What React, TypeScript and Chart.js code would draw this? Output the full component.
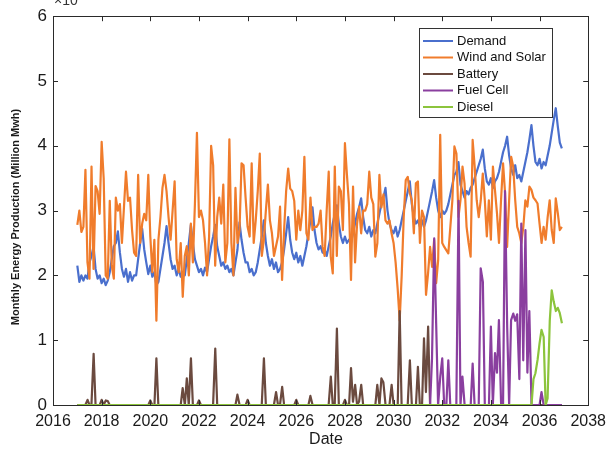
import React, { useEffect, useRef } from "react";
import { Chart, registerables } from "chart.js";

Chart.register(...registerables);

// Monthly series start in January 2017
const START_YEAR = 2017;

const demand = [
  2.15, 1.9, 2.0, 1.92, 2.0, 1.95, 2.2, 2.3, 2.45, 2.1, 1.95, 2.0,
  1.88, 1.95, 1.85, 1.92, 2.05, 2.25, 2.45, 2.5, 2.68, 2.35, 2.1, 1.98,
  2.1, 1.9, 2.05, 1.92, 2.0, 2.0, 2.25, 2.5, 2.72, 2.4, 2.2, 2.02,
  2.15, 1.98, 2.05, 1.85, 1.9, 2.1, 2.3, 2.5, 2.76, 2.5, 2.25, 2.1,
  2.15, 2.0, 2.1, 1.98, 2.05, 2.0, 2.25, 2.5, 2.78, 2.5, 2.25, 2.15,
  2.05, 2.1, 2.0, 2.12, 2.05, 2.25, 2.45, 2.6, 2.78, 2.45, 2.3, 2.15,
  2.2, 2.1, 2.15, 2.05, 2.1, 2.0, 2.2, 2.4, 2.82, 2.55, 2.35, 2.2,
  2.2, 2.05, 2.1, 2.0, 2.05, 2.2, 2.4, 2.6, 2.85, 2.5, 2.3, 2.15,
  2.25, 2.1, 2.2, 2.05, 2.1, 2.2, 2.4, 2.65, 2.9, 2.55, 2.35, 2.25,
  2.35, 2.2, 2.3, 2.15, 2.3, 2.45, 2.65, 2.85, 3.05, 2.7, 2.5, 2.4,
  2.45, 2.35, 2.4, 2.3, 2.45, 2.6, 2.8, 2.95, 3.08, 2.8, 2.6, 2.5,
  2.6, 2.5, 2.55, 2.5, 2.65, 2.8, 2.95, 3.05, 3.19, 2.9, 2.7, 2.65,
  2.75, 2.6, 2.7, 2.65, 2.8, 2.95, 3.1, 3.2, 3.35, 3.0, 2.8, 2.7,
  2.65, 2.75, 2.6, 2.7, 2.85, 3.0, 3.15, 3.3, 3.45, 3.1, 2.9, 2.8,
  2.85, 2.75, 2.85, 2.75, 2.85, 3.0, 3.15, 3.3, 3.47, 3.2, 3.0, 2.9,
  3.0, 2.95, 3.0, 3.1, 3.25, 3.4, 3.55, 3.6, 3.75, 3.4, 3.3, 3.2,
  3.3, 3.25, 3.35, 3.4, 3.5, 3.6, 3.7, 3.8, 3.94, 3.65, 3.45, 3.4,
  3.5, 3.35, 3.45, 3.5, 3.6, 3.75, 3.9, 4.0, 4.14, 3.85, 3.65, 3.55,
  3.7, 3.5, 3.55, 3.45, 3.6, 3.75, 3.9, 4.1, 4.32, 4.0, 3.75, 3.7,
  3.8, 3.65, 3.75, 3.7, 3.85, 4.0, 4.2, 4.4, 4.58, 4.3, 4.05, 3.96,
];

const windSolar = [
  2.78, 3.0, 2.67, 2.75, 3.63, 2.2, 1.95, 3.68, 2.1, 3.38, 3.3, 2.95,
  4.06, 3.5, 2.0, 1.95, 3.15, 2.15, 1.95, 3.2, 3.0, 3.1, 2.5, 3.05,
  3.6, 3.15, 3.2, 2.7, 2.35, 2.3, 3.55, 2.5, 2.8, 2.95, 2.85, 3.55,
  2.6, 2.05, 2.55, 1.3, 2.55, 2.9, 3.35, 3.55, 3.3, 2.9, 2.55, 3.0,
  3.45, 2.25, 2.05, 2.5, 1.67, 2.3, 2.45, 2.0, 2.8, 2.2, 3.1, 4.2,
  2.9, 3.0, 2.85, 2.5, 2.0, 2.6, 4.0, 3.7, 2.15, 2.9, 3.2, 2.8,
  3.4, 2.2, 2.5, 4.1, 2.5, 2.0, 3.35, 2.5, 2.7, 3.73, 3.7, 3.2,
  2.75, 2.6, 3.73, 2.5, 2.85, 3.3, 3.88, 2.3, 2.55, 3.0, 3.4, 2.85,
  2.65, 2.3, 2.45, 2.6, 3.06, 1.93, 2.7, 3.3, 3.65, 3.34, 3.3, 3.15,
  2.55, 3.0, 2.7, 3.0, 3.83, 2.65, 2.55, 3.2, 2.7, 2.75, 2.75, 2.8,
  3.0, 2.44, 2.3, 3.0, 3.6, 2.29, 2.03, 3.68, 2.3, 3.37, 3.3, 2.7,
  4.04, 3.55, 3.1, 1.93, 3.37, 2.2, 2.8, 3.06, 2.65, 3.0, 3.0, 3.1,
  3.6, 3.2, 3.1, 2.29, 2.5, 3.55, 3.05, 3.25, 2.85, 2.8, 2.85, 2.65,
  2.5, 2.2, 1.8, 1.3, 2.0, 2.9, 3.47, 3.52, 3.27, 3.16, 2.65, 3.42,
  3.45, 2.5, 3.0, 2.9, 1.7, 2.03, 2.44, 2.13, 2.55, 1.88, 2.24, 4.17,
  2.5, 2.44, 2.39, 2.34, 2.75, 3.16, 3.99, 3.88, 2.9, 3.16, 3.68, 3.42,
  2.75, 2.5, 2.29, 4.09, 3.68, 3.16, 2.9, 3.16, 3.57, 3.16, 2.6, 3.16,
  2.55, 3.68, 3.32, 2.96, 2.5, 3.16, 3.73, 3.27, 2.44, 3.16, 3.83, 3.68,
  3.16, 2.75, 2.65, 2.5, 2.75, 3.16, 3.06, 3.37, 3.32, 3.2, 3.16, 3.11,
  2.8, 2.5, 2.75, 2.55, 2.9, 3.16, 2.7, 2.5, 3.19, 2.96, 2.7, 2.75,
];

// Sparse series: [decimal year, value]
const battery: [number, number][] = [
  [2017.0, 0], [2017.33, 0], [2017.42, 0.08], [2017.5, 0], [2017.58, 0], [2017.67, 0.79],
  [2017.75, 0], [2017.92, 0], [2018.0, 0.08], [2018.08, 0], [2018.17, 0.07], [2018.25, 0.06],
  [2018.33, 0], [2019.92, 0], [2020.0, 0.07], [2020.08, 0], [2020.17, 0], [2020.25, 0.72],
  [2020.33, 0], [2021.25, 0], [2021.33, 0.26], [2021.42, 0], [2021.5, 0.41], [2021.58, 0],
  [2021.67, 0.72], [2021.75, 0], [2021.92, 0], [2022.0, 0.07], [2022.08, 0], [2022.58, 0],
  [2022.67, 0.87], [2022.75, 0], [2023.5, 0], [2023.58, 0.16], [2023.67, 0], [2023.92, 0],
  [2024.0, 0.08], [2024.08, 0], [2024.58, 0], [2024.67, 0.72], [2024.75, 0], [2025.08, 0],
  [2025.17, 0.2], [2025.25, 0], [2025.33, 0], [2025.42, 0.28], [2025.5, 0], [2025.92, 0],
  [2026.0, 0.08], [2026.08, 0], [2026.5, 0], [2026.58, 0.14], [2026.67, 0], [2027.33, 0],
  [2027.42, 0.44], [2027.5, 0], [2027.58, 0], [2027.67, 1.18], [2027.75, 0], [2027.92, 0],
  [2028.0, 0.08], [2028.08, 0], [2028.17, 0], [2028.25, 0.57], [2028.33, 0.05], [2028.42, 0.31],
  [2028.5, 0], [2028.58, 0.05], [2028.67, 0.31], [2028.75, 0], [2029.25, 0], [2029.33, 0.31],
  [2029.42, 0], [2029.5, 0.41], [2029.58, 0.35], [2029.67, 0], [2029.83, 0], [2029.92, 0.31],
  [2030.0, 0], [2030.17, 0], [2030.25, 1.45], [2030.33, 0], [2030.58, 0], [2030.67, 0.69],
  [2030.75, 0], [2030.92, 0], [2031.0, 0.59], [2031.08, 0], [2031.17, 0], [2031.25, 1.03],
  [2031.33, 0.2], [2031.42, 1.21], [2031.5, 0], [2036.92, 0],
];

const fuelCell: [number, number][] = [
  [2017.0, 0], [2031.5, 0], [2031.58, 0.72], [2031.67, 2.57], [2031.75, 1.26], [2031.83, 0],
  [2031.92, 0.44], [2032.0, 0.72], [2032.08, 0], [2032.17, 0], [2032.25, 0.69], [2032.33, 0],
  [2032.58, 0], [2032.67, 3.15], [2032.75, 0], [2032.83, 0.44], [2032.92, 0], [2033.17, 0],
  [2033.25, 0.64], [2033.33, 0], [2033.5, 0], [2033.58, 2.11], [2033.67, 1.9], [2033.75, 0],
  [2033.92, 0], [2034.0, 1.21], [2034.08, 0], [2034.17, 0.8], [2034.25, 0.5], [2034.33, 1.31],
  [2034.42, 0], [2034.5, 0], [2034.58, 3.3], [2034.67, 1.2], [2034.75, 0], [2034.83, 1.31],
  [2034.92, 1.41], [2035.0, 1.3], [2035.08, 1.4], [2035.17, 0.4], [2035.25, 2.8], [2035.33, 0.69],
  [2035.42, 2.7], [2035.5, 0.5], [2035.58, 1.45], [2035.67, 0], [2036.0, 0], [2036.08, 0.2],
  [2036.17, 0], [2036.92, 0],
];

const diesel: [number, number][] = [
  [2017.0, 0], [2035.67, 0], [2035.75, 0.4], [2035.83, 0.49], [2035.92, 0.7], [2036.0, 0.95],
  [2036.08, 1.16], [2036.17, 1.05], [2036.25, 0], [2036.33, 0.1], [2036.42, 1.3], [2036.5, 1.77],
  [2036.58, 1.6], [2036.67, 1.45], [2036.75, 1.5], [2036.83, 1.42], [2036.92, 1.26],
];

const xTicks = [2016, 2018, 2020, 2022, 2024, 2026, 2028, 2030, 2032, 2034, 2036, 2038];
const yTicks = [0, 1, 2, 3, 4, 5, 6];
const seriesNames = ["Demand", "Wind and Solar", "Battery", "Fuel Cell", "Diesel"];
const seriesColors = ["#4a6fcd", "#f07c2c", "#6b4a3f", "#8a3f9f", "#8cc43c"];

const FONT = "'Liberation Sans', Arial, sans-serif";

const decorPlugin = {
  id: "decor",
  beforeDraw(chart: any) {
    const ctx = chart.ctx;
    ctx.save();
    ctx.fillStyle = "#ffffff";
    ctx.fillRect(0, 0, chart.width, chart.height);
    ctx.restore();
  },
  afterDraw(chart: any) {
    const ctx = chart.ctx;
    const a = chart.chartArea;
    const xs = chart.scales.x;
    const ys = chart.scales.y;
    ctx.save();
    ctx.strokeStyle = "#2a2a2a";
    ctx.lineWidth = 1;
    ctx.strokeRect(Math.round(a.left) + 0.5, Math.round(a.top) + 0.5, Math.round(a.right - a.left), Math.round(a.bottom - a.top));
    ctx.beginPath();
    for (const v of xTicks) {
      const px = Math.round(xs.getPixelForValue(v)) + 0.5;
      ctx.moveTo(px, a.bottom);
      ctx.lineTo(px, a.bottom - 5);
      ctx.moveTo(px, a.top);
      ctx.lineTo(px, a.top + 5);
    }
    for (const v of yTicks) {
      const py = Math.round(ys.getPixelForValue(v)) + 0.5;
      ctx.moveTo(a.left, py);
      ctx.lineTo(a.left + 5, py);
      ctx.moveTo(a.right, py);
      ctx.lineTo(a.right - 5, py);
    }
    ctx.stroke();

    // exponent label (cut at top)
    ctx.fillStyle = "#333";
    ctx.font = `14px ${FONT}`;
    ctx.textAlign = "left";
    ctx.textBaseline = "alphabetic";
    ctx.fillText("\u00d710", a.left + 1, 5);

    // y title
    ctx.save();
    ctx.translate(16, 217);
    ctx.rotate(-Math.PI / 2);
    ctx.textAlign = "center";
    ctx.textBaseline = "middle";
    ctx.font = `bold 11px ${FONT}`;
    ctx.fillStyle = "#1a1a1a";
    ctx.fillText("Monthly Energy Production (Million Mwh)", 0, 0);
    ctx.restore();

    // x title
    ctx.textAlign = "center";
    ctx.textBaseline = "middle";
    ctx.font = `16px ${FONT}`;
    ctx.fillStyle = "#1a1a1a";
    ctx.fillText("Date", 326, 440);

    // legend
    const lx = 419.5, ly = 28.5, lw = 133, lh = 89;
    ctx.fillStyle = "#ffffff";
    ctx.fillRect(lx, ly, lw, lh);
    ctx.strokeStyle = "#333";
    ctx.lineWidth = 1;
    ctx.strokeRect(lx, ly, lw, lh);
    ctx.font = `13px ${FONT}`;
    ctx.textAlign = "left";
    ctx.textBaseline = "middle";
    seriesNames.forEach((name, i) => {
      const ry = 41 + i * 16.5;
      ctx.strokeStyle = seriesColors[i];
      ctx.lineWidth = 2;
      ctx.beginPath();
      ctx.moveTo(423, ry);
      ctx.lineTo(453, ry);
      ctx.stroke();
      ctx.fillStyle = "#111";
      ctx.fillText(name, 457, ry);
    });
    ctx.restore();
  },
};

export default function App() {
  const ref = useRef<HTMLCanvasElement | null>(null);
  useEffect(() => {
    if (!ref.current) return;
    const monthly = (arr: number[]) => arr.map((v, i) => ({ x: START_YEAR + i / 12, y: v }));
    const pairs = (arr: [number, number][]) => arr.map(([x, y]) => ({ x, y }));
    const seriesData = [monthly(demand), monthly(windSolar), pairs(battery), pairs(fuelCell), pairs(diesel)];
    const chart = new Chart(ref.current, {
      type: "line",
      data: {
        datasets: seriesData.map((d, i) => ({
          label: seriesNames[i],
          data: d,
          borderColor: seriesColors[i],
          backgroundColor: seriesColors[i],
          borderWidth: 2.2,
          pointRadius: 0,
          tension: 0,
          fill: false,
          borderJoinStyle: "round" as const,
          order: 5 - i,
        })),
      },
      options: {
        responsive: false,
        animation: false,
        devicePixelRatio: 1,
        layout: { padding: { left: 0, top: 16, right: 16, bottom: 0 } },
        plugins: { legend: { display: false }, tooltip: { enabled: false } },
        events: [],
        scales: {
          x: {
            type: "linear",
            min: 2016,
            max: 2038,
            afterFit: (s: any) => { s.height = 45; },
            afterBuildTicks: (s: any) => { s.ticks = xTicks.map((v) => ({ value: v })); },
            grid: { display: false, drawTicks: false },
            border: { display: false },
            ticks: {
              autoSkip: false,
              maxRotation: 0,
              padding: 7,
              color: "#1a1a1a",
              font: { family: FONT, size: 16 },
              callback: (v: any) => String(v),
            },
          },
          y: {
            min: 0,
            max: 6,
            afterFit: (s: any) => { s.width = 53; },
            afterBuildTicks: (s: any) => { s.ticks = yTicks.map((v) => ({ value: v })); },
            grid: { display: false, drawTicks: false },
            border: { display: false },
            ticks: {
              padding: 6,
              color: "#1a1a1a",
              font: { family: FONT, size: 17 },
              callback: (v: any) => String(v),
            },
          },
        },
      },
      plugins: [decorPlugin],
    });
    return () => chart.destroy();
  }, []);
  return (
    <div style={{ position: "absolute", left: 0, top: 0, width: 613, height: 450 }}>
      <canvas ref={ref} width={613} height={450} style={{ display: "block" }} />
    </div>
  );
}
